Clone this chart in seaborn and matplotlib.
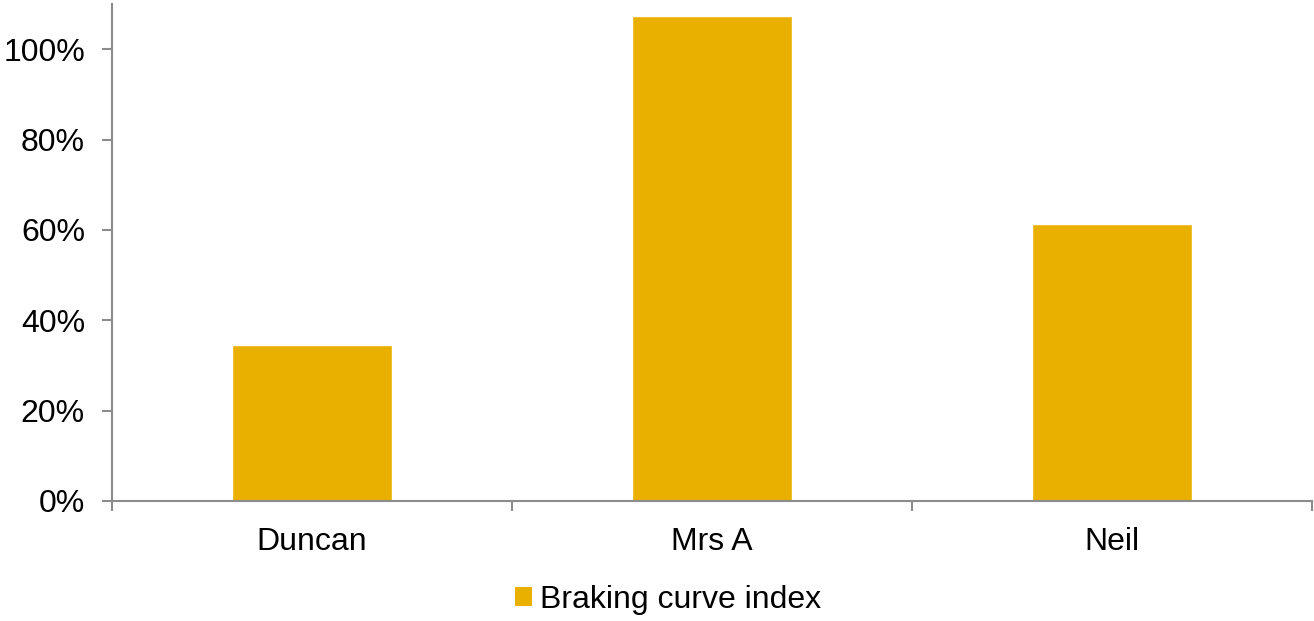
import matplotlib
matplotlib.use("Agg")
import matplotlib.pyplot as plt
import seaborn as sns
import pandas as pd
from matplotlib.patches import Patch
from matplotlib.ticker import PercentFormatter

names = ["Duncan", "Mrs A", "Neil"]
braking_index = [0.346, 1.074, 0.612]
y_ticks = [0, 0.2, 0.4, 0.6, 0.8, 1.0]
series_label = "Braking curve index"

bar_color = "#EAB000"
axis_color = "#8C8C8C"
font_size = 23

sns.set_theme(style="white")
plt.rcParams["font.family"] = ["Liberation Sans", "DejaVu Sans"]
plt.rcParams["text.color"] = "black"

df = pd.DataFrame({"name": names, "value": braking_index})

fig = plt.figure(figsize=(13.14, 6.21), dpi=100)
ax = fig.add_axes([112 / 1314, 1 - 501 / 621, 1200 / 1314, 497 / 621])

sns.barplot(data=df, x="name", y="value", color=bar_color, width=0.4,
            saturation=1, ax=ax)

ax.set_xlim(-0.5, 2.5)
ax.set_ylim(0, 1.1)
ax.set_yticks(y_ticks)
ax.yaxis.set_major_formatter(PercentFormatter(1.0, decimals=0))
# category boundaries carry the tick marks, category centres carry the names
ax.set_xticks([-0.5, 0.5, 1.5, 2.5], minor=False)
ax.set_xticklabels([])
ax.set_xticks([0, 1, 2], minor=True)
ax.set_xticklabels(names, minor=True)
ax.set_xlabel("")
ax.set_ylabel("")

for side in ["top", "right"]:
    ax.spines[side].set_visible(False)
for side in ["left", "bottom"]:
    ax.spines[side].set_color(axis_color)
    ax.spines[side].set_linewidth(1.5)

ax.tick_params(axis="y", which="major", direction="out", length=7, width=1.5,
               color=axis_color, labelsize=font_size, labelcolor="black",
               pad=12.5, left=True)
ax.tick_params(axis="x", which="major", direction="out", length=7.5, width=1.5,
               color=axis_color, bottom=True)
ax.tick_params(axis="x", which="minor", length=0, labelsize=font_size,
               labelcolor="black", pad=19)

handle = Patch(facecolor=bar_color, edgecolor="none")
fig.legend([handle], [series_label], loc="center",
           bbox_to_anchor=(0.5084, 1 - 600 / 621), frameon=False,
           fontsize=font_size, handlelength=0.55, handleheight=0.55,
           handletextpad=0.25, borderaxespad=0)

fig.savefig("out.png", dpi=100)
